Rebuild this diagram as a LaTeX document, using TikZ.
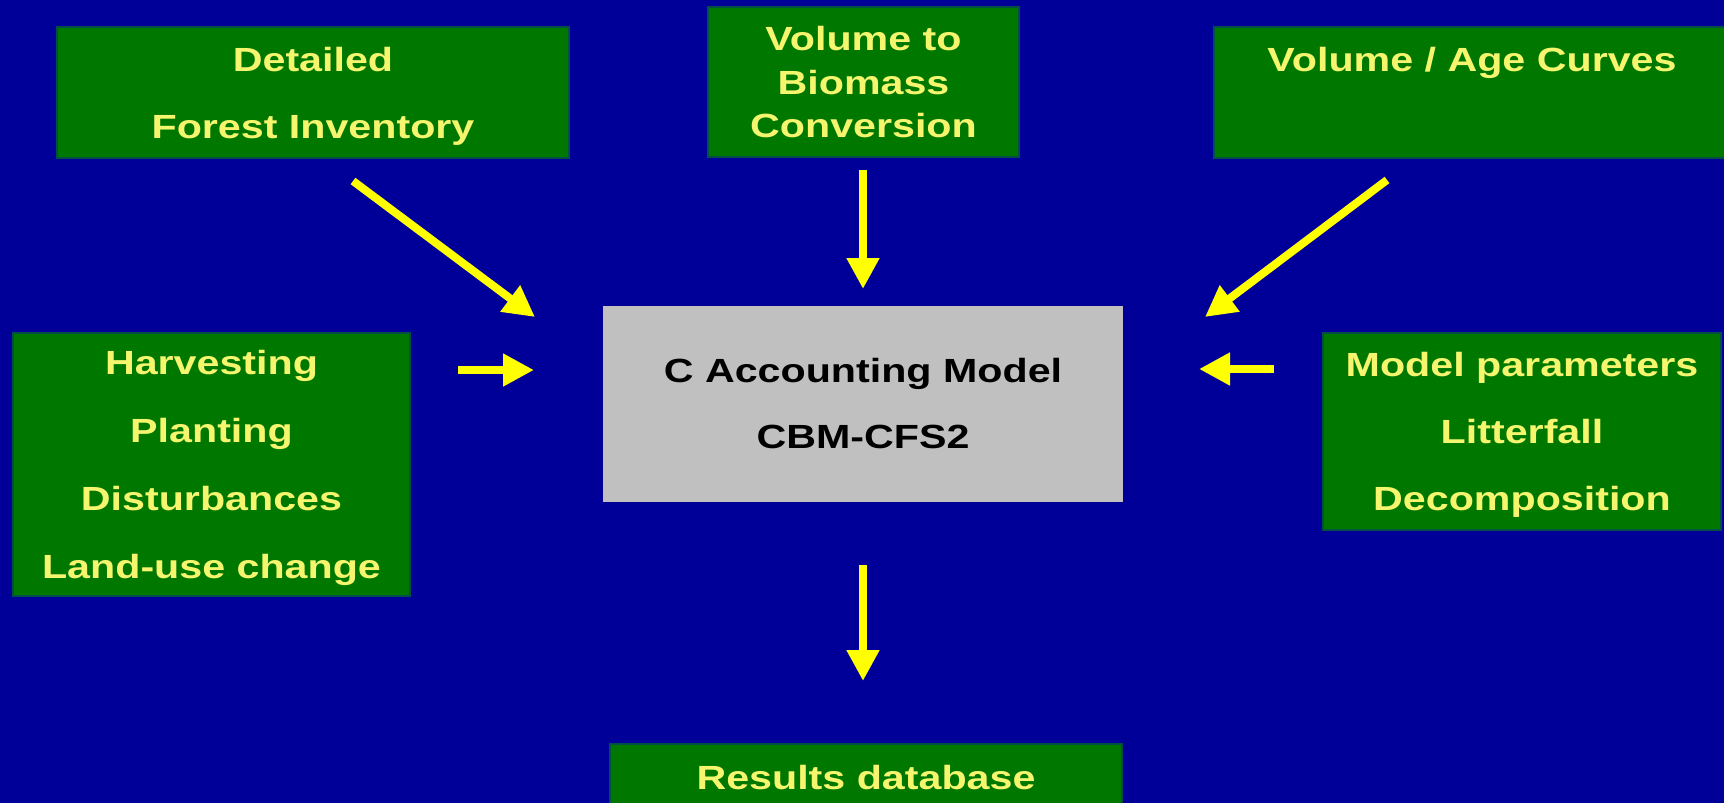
\documentclass[tikz,border=0pt]{standalone}
\usepackage{fontspec}
\setmainfont{Liberation Sans}[FakeStretch=1.23]
\usetikzlibrary{arrows.meta}
\definecolor{bgblue}{RGB}{0,0,153}
\definecolor{boxgreen}{RGB}{0,120,0}
\definecolor{boxedge}{RGB}{0,80,70}
\definecolor{txtyellow}{RGB}{245,245,110}
\definecolor{arrowyellow}{RGB}{255,255,0}
\definecolor{boxgray}{RGB}{192,192,192}
\begin{document}
\begin{tikzpicture}[x=0.5pt,y=-0.5pt,
  greenbox/.style={draw=boxedge, line width=1pt, fill=boxgreen, text=txtyellow,
    font=\bfseries\fontsize{16.75}{33.5}\selectfont, align=center, inner sep=0pt, outer sep=0pt,
    text depth=-1pt},
  graybox/.style={draw=boxgray, line width=1pt, fill=boxgray, text=black,
    font=\bfseries\fontsize{16.75}{33}\selectfont, align=center, inner sep=0pt, outer sep=0pt},
  yarrow/.style={draw=arrowyellow, line width=4pt, -{Triangle[width=15.5pt,length=15.5pt]}}]
\path[use as bounding box, fill=bgblue] (0,0) rectangle (1724,803);
\clip (0,0) rectangle (1724,803);
% boxes
\node[greenbox, text depth=-3pt, minimum width=256pt, minimum height=65.5pt] (det) at (313,92.5) {Detailed\\Forest Inventory};
\node[greenbox, text depth=-2pt, font=\bfseries\fontsize{16.75}{21.75}\selectfont, minimum width=155.5pt, minimum height=75pt] (vtb) at (863.5,82) {Volume to\\Biomass\\Conversion};
\node[greenbox, text depth=-3pt, minimum width=258pt, minimum height=65.5pt] (vac) at (1472,92.5) {Volume / Age Curves\\\phantom{Ay}};
\node[greenbox, font=\bfseries\fontsize{16.75}{33.9}\selectfont, minimum width=198.5pt, minimum height=131.5pt] (hrv) at (211.5,464.5) {Harvesting\\Planting\\Disturbances\\Land-use change};
\node[greenbox, text depth=-3pt, minimum width=199pt, minimum height=98.5pt] (mpr) at (1522,431.5) {Model parameters\\Litterfall\\Decomposition};
\node[graybox, minimum width=259pt, minimum height=97pt] (cbm) at (863,404) {C Accounting Model\\CBM-CFS2};
\node[greenbox, minimum width=256pt, minimum height=33pt] (res) at (866,777) {Results database};
% arrow ends
\coordinate (a1s) at (353,181);  \coordinate (a1e) at (535,317);
\coordinate (a2s) at (863,170);  \coordinate (a2e) at (863,289);
\coordinate (a3s) at (1387,180); \coordinate (a3e) at (1205,317);
\coordinate (a4s) at (458,370);  \coordinate (a4e) at (534,370);
\coordinate (a5s) at (1274,369); \coordinate (a5e) at (1199,369);
\coordinate (a6s) at (863,565);  \coordinate (a6e) at (863,681);
\draw[yarrow] (a1s) -- (a1e);
\draw[yarrow] (a2s) -- (a2e);
\draw[yarrow] (a3s) -- (a3e);
\draw[yarrow] (a4s) -- (a4e);
\draw[yarrow] (a5s) -- (a5e);
\draw[yarrow] (a6s) -- (a6e);
\end{tikzpicture}
\end{document}
